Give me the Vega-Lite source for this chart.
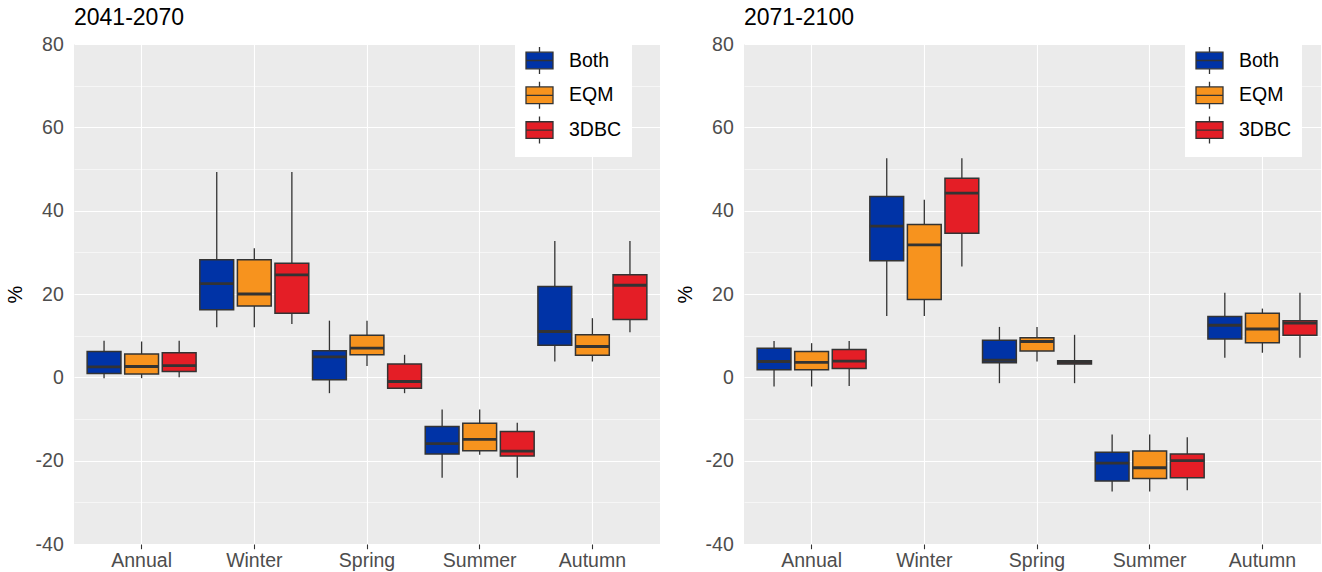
{
  "$schema": "https://vega.github.io/schema/vega-lite/v6.json",
  "padding": {"left": 5, "top": 7, "right": 0, "bottom": 0},
  "data": {
    "values": [
      {"period": "2041-2070", "season": "Annual", "method": "Both", "lo": -0.2, "q1": 0.9, "med": 2.5, "q3": 6.2, "hi": 8.8},
      {"period": "2041-2070", "season": "Annual", "method": "EQM", "lo": -0.2, "q1": 0.8, "med": 2.6, "q3": 5.6, "hi": 8.6},
      {"period": "2041-2070", "season": "Annual", "method": "3DBC", "lo": 0.0, "q1": 1.4, "med": 2.8, "q3": 5.9, "hi": 8.8},
      {"period": "2041-2070", "season": "Winter", "method": "Both", "lo": 12.0, "q1": 16.2, "med": 22.5, "q3": 28.2, "hi": 49.3},
      {"period": "2041-2070", "season": "Winter", "method": "EQM", "lo": 12.0, "q1": 17.1, "med": 20.0, "q3": 28.2, "hi": 31.0},
      {"period": "2041-2070", "season": "Winter", "method": "3DBC", "lo": 12.8, "q1": 15.4, "med": 24.6, "q3": 27.4, "hi": 49.3},
      {"period": "2041-2070", "season": "Spring", "method": "Both", "lo": -3.8, "q1": -0.6, "med": 4.9, "q3": 6.4, "hi": 13.6},
      {"period": "2041-2070", "season": "Spring", "method": "EQM", "lo": 2.7, "q1": 5.4, "med": 7.0, "q3": 10.1, "hi": 13.6},
      {"period": "2041-2070", "season": "Spring", "method": "3DBC", "lo": -3.8, "q1": -2.6, "med": -1.0, "q3": 3.2, "hi": 5.4},
      {"period": "2041-2070", "season": "Summer", "method": "Both", "lo": -24.1, "q1": -18.4, "med": -15.9, "q3": -11.8, "hi": -7.7},
      {"period": "2041-2070", "season": "Summer", "method": "EQM", "lo": -18.6, "q1": -17.6, "med": -14.9, "q3": -11.0, "hi": -7.7},
      {"period": "2041-2070", "season": "Summer", "method": "3DBC", "lo": -24.1, "q1": -18.9, "med": -17.7, "q3": -13.0, "hi": -10.9},
      {"period": "2041-2070", "season": "Autumn", "method": "Both", "lo": 3.8, "q1": 7.7, "med": 11.0, "q3": 21.8, "hi": 32.7},
      {"period": "2041-2070", "season": "Autumn", "method": "EQM", "lo": 3.8, "q1": 5.3, "med": 7.4, "q3": 10.2, "hi": 14.2},
      {"period": "2041-2070", "season": "Autumn", "method": "3DBC", "lo": 10.8, "q1": 13.9, "med": 22.1, "q3": 24.6, "hi": 32.7},
      {"period": "2071-2100", "season": "Annual", "method": "Both", "lo": -2.2, "q1": 1.8, "med": 3.8, "q3": 7.0, "hi": 8.7},
      {"period": "2071-2100", "season": "Annual", "method": "EQM", "lo": -2.2, "q1": 1.8, "med": 3.6, "q3": 6.2, "hi": 8.2},
      {"period": "2071-2100", "season": "Annual", "method": "3DBC", "lo": -2.1, "q1": 2.1, "med": 3.9, "q3": 6.7, "hi": 8.7},
      {"period": "2071-2100", "season": "Winter", "method": "Both", "lo": 14.7, "q1": 28.0, "med": 36.3, "q3": 43.4, "hi": 52.6},
      {"period": "2071-2100", "season": "Winter", "method": "EQM", "lo": 14.7, "q1": 18.7, "med": 31.8, "q3": 36.7, "hi": 42.6},
      {"period": "2071-2100", "season": "Winter", "method": "3DBC", "lo": 26.6, "q1": 34.6, "med": 44.2, "q3": 47.8, "hi": 52.6},
      {"period": "2071-2100", "season": "Spring", "method": "Both", "lo": -1.4, "q1": 3.5, "med": 4.1, "q3": 8.9, "hi": 12.1},
      {"period": "2071-2100", "season": "Spring", "method": "EQM", "lo": 3.8, "q1": 6.3, "med": 8.6, "q3": 9.5, "hi": 12.1},
      {"period": "2071-2100", "season": "Spring", "method": "3DBC", "lo": -1.4, "q1": 3.2, "med": 3.6, "q3": 4.0, "hi": 10.2},
      {"period": "2071-2100", "season": "Summer", "method": "Both", "lo": -27.4, "q1": -24.9, "med": -20.6, "q3": -18.0, "hi": -13.7},
      {"period": "2071-2100", "season": "Summer", "method": "EQM", "lo": -27.4, "q1": -24.3, "med": -21.7, "q3": -17.7, "hi": -13.7},
      {"period": "2071-2100", "season": "Summer", "method": "3DBC", "lo": -27.1, "q1": -24.1, "med": -20.0, "q3": -18.4, "hi": -14.4},
      {"period": "2071-2100", "season": "Autumn", "method": "Both", "lo": 4.7, "q1": 9.2, "med": 12.5, "q3": 14.6, "hi": 20.3},
      {"period": "2071-2100", "season": "Autumn", "method": "EQM", "lo": 5.9, "q1": 8.3, "med": 11.6, "q3": 15.4, "hi": 16.5},
      {"period": "2071-2100", "season": "Autumn", "method": "3DBC", "lo": 4.7, "q1": 10.1, "med": 13.0, "q3": 13.6, "hi": 20.3}
    ]
  },
  "spacing": 15,
  "resolve": {"legend": {"color": "independent"}},
  "hconcat": [
    {
      "title": {"text": "2041-2070", "anchor": "start", "frame": "group", "fontSize": 23, "fontWeight": "normal", "color": "black", "offset": 4},
      "width": 586,
      "height": 500,
      "transform": [{"filter": "datum.period === '2041-2070'"}],
      "encoding": {
        "x": {"field": "season", "type": "nominal", "sort": ["Annual", "Winter", "Spring", "Summer", "Autumn"], "scale": {"paddingInner": 0, "paddingOuter": 0.1}, "axis": {"title": null}},
        "xOffset": {"field": "method", "type": "nominal", "sort": ["Both", "EQM", "3DBC"], "scale": {"paddingInner": 0.1, "paddingOuter": 0.05}}
      },
      "layer": [
        {
          "mark": {"type": "rule", "color": "#333333", "strokeWidth": 1.3},
          "encoding": {
            "y": {"field": "lo", "type": "quantitative", "scale": {"domain": [-40, 80], "nice": false, "zero": false}, "axis": {"title": "%"}},
            "y2": {"field": "hi"}
          }
        },
        {
          "mark": {"type": "bar", "stroke": "#333333", "strokeWidth": 1.5},
          "encoding": {
            "y": {"field": "q1", "type": "quantitative"},
            "y2": {"field": "q3"},
            "color": {
              "field": "method", "type": "nominal",
              "scale": {"domain": ["Both", "EQM", "3DBC"], "range": ["#0033A6", "#F7931E", "#E41E26"]},
              "legend": {"orient": "none", "legendX": 441, "legendY": -8}
            }
          }
        },
        {
          "mark": {"type": "tick", "color": "#333333", "thickness": 2.8, "size": 34, "opacity": 1},
          "encoding": {"y": {"field": "med", "type": "quantitative"}}
        }
      ]
    },
    {
      "title": {"text": "2071-2100", "anchor": "start", "frame": "group", "fontSize": 23, "fontWeight": "normal", "color": "black", "offset": 4},
      "width": 577,
      "height": 500,
      "transform": [{"filter": "datum.period === '2071-2100'"}],
      "encoding": {
        "x": {"field": "season", "type": "nominal", "sort": ["Annual", "Winter", "Spring", "Summer", "Autumn"], "scale": {"paddingInner": 0, "paddingOuter": 0.1, "range": [0, 586]}, "axis": {"title": null}},
        "xOffset": {"field": "method", "type": "nominal", "sort": ["Both", "EQM", "3DBC"], "scale": {"paddingInner": 0.1, "paddingOuter": 0.05}}
      },
      "layer": [
        {
          "mark": {"type": "rule", "color": "#333333", "strokeWidth": 1.3},
          "encoding": {
            "y": {"field": "lo", "type": "quantitative", "scale": {"domain": [-40, 80], "nice": false, "zero": false}, "axis": {"title": "%"}},
            "y2": {"field": "hi"}
          }
        },
        {
          "mark": {"type": "bar", "stroke": "#333333", "strokeWidth": 1.5},
          "encoding": {
            "y": {"field": "q1", "type": "quantitative"},
            "y2": {"field": "q3"},
            "color": {
              "field": "method", "type": "nominal",
              "scale": {"domain": ["Both", "EQM", "3DBC"], "range": ["#0033A6", "#F7931E", "#E41E26"]},
              "legend": {"orient": "none", "legendX": 441, "legendY": -8}
            }
          }
        },
        {
          "mark": {"type": "tick", "color": "#333333", "thickness": 2.8, "size": 34, "opacity": 1},
          "encoding": {"y": {"field": "med", "type": "quantitative"}}
        }
      ]
    }
  ],
  "config": {
    "font": "Liberation Sans",
    "view": {"fill": "#EBEBEB", "stroke": null},
    "axis": {
      "domain": false,
      "grid": true,
      "gridColor": "#FFFFFF",
      "gridOpacity": 1,
      "tickColor": "#333333",
      "tickSize": 4.7,
      "tickWidth": 1.1,
      "labelColor": "#4D4D4D",
      "labelFontSize": 19.5,
      "labelPadding": 6,
      "titleFontSize": 20,
      "titleFontWeight": "normal",
      "titleColor": "#000000"
    },
    "axisX": {"bandPosition": 0.5, "labelAngle": 0, "gridWidth": 1.1, "labelPadding": 3},
    "axisY": {
      "values": [-40, -30, -20, -10, 0, 10, 20, 30, 40, 50, 60, 70, 80],
      "labelExpr": "datum.value % 20 === 0 ? '' + datum.value : ''",
      "gridWidth": {"condition": {"test": "datum.value % 20 === 0", "value": 1.1}, "value": 0.55},
      "tickOpacity": {"condition": {"test": "datum.value % 20 === 0", "value": 1}, "value": 0},
      "titlePadding": 10
    },
    "legend": {
      "title": null,
      "fillColor": "#FFFFFF",
      "padding": 10,
      "symbolType": "M-1,-0.62H1V0.62H-1Z M-1,0H1 M0,-0.62V-1 M0,0.62V1",
      "symbolSize": 729,
      "symbolStrokeColor": "#333333",
      "symbolStrokeWidth": 1.3,
      "labelFontSize": 19.5,
      "labelColor": "#000000",
      "labelOffset": 15,
      "rowPadding": 1.8
    }
  }
}
